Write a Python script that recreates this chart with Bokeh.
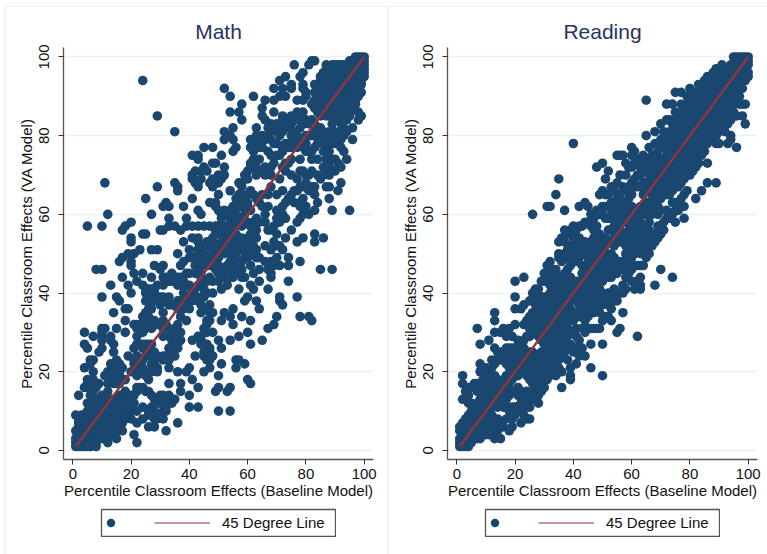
from bokeh.plotting import figure
from bokeh.layouts import row
from bokeh.models import Range1d, Legend, LegendItem, FixedTicker, ColumnDataSource, Div
from bokeh.embed import file_html
from bokeh.resources import INLINE

NAVY = "#1A476F"
MAROON = "#90353B"
GRID = "#EAF2F3"
FONT = "Liberation Sans"

tick_values = [0, 20, 40, 60, 80, 100]
titles = ["Math", "Reading"]
x_title = "Percentile Classroom Effects (Baseline Model)"
y_title = "Percentile Classroom Effects (VA Model)"
legend_label = "45 Degree Line"
line_x = [1, 100]
line_y = [1, 100]

math_y90 = [(97,100),(98,100),(99,100),(100,100),(95,99),(96,99),(97,99),(98,99),(99,99),(100,99),(83,99),(82,99),(76,98),(81,98),(87,98),(89,98),(90,98),(91,98),(92,98),(93,98),(94,98),(96,98),(98,98),(100,98),(87,97),(88,97),(90,97),(92,97),(94,97),(96,97),(98,97),(99,97),(100,97),(86,96),(88,96),(90,96),(92,96),(93,96),(95,96),(97,96),(99,96),(100,96),(79,96),(78,95),(73,95),(85,95),(87,95),(89,95),(91,95),(93,95),(95,95),(97,95),(99,95),(100,95),(71,94),(85,94),(86,94),(88,94),(90,94),(92,94),(94,94),(96,94),(98,94),(99,94),(24,94),(75,93),(79,93),(83,93),(85,93),(87,93),(89,93),(91,93),(93,93),(95,93),(97,93),(69,92),(52,92),(72,92),(75,92),(79,92),(84,92),(86,92),(88,92),(90,92),(92,92),(94,92),(96,92),(98,92),(80,91),(83,91),(85,91),(87,91),(89,91),(91,91),(93,91),(95,91),(97,91),(99,91),(54,90),(62,90),(73,90),(71,90),(80,90),(84,90),(86,90),(88,90),(90,90),(92,90),(94,90),(95,90),(96,90),(98,90),(99,93)]
math_y80 = [(66,89),(69,89),(77,89),(79,89),(83,89),(85,89),(87,89),(89,89),(91,89),(93,89),(96,89),(97,89),(58,88),(82,88),(84,88),(86,88),(88,88),(90,88),(92,88),(94,88),(95,88),(96,88),(97,88),(65,87),(83,87),(85,87),(87,87),(89,87),(91,87),(93,87),(96,87),(57,86),(54,86),(69,86),(77,86),(79,86),(84,86),(86,86),(88,86),(90,86),(92,86),(95,86),(98,86),(65,85),(72,85),(75,85),(77,85),(85,85),(87,85),(88,85),(91,85),(94,85),(95,85),(99,85),(29,85),(58,84),(66,84),(72,84),(74,84),(76,84),(78,84),(80,84),(82,84),(90,84),(92,84),(93,84),(94,84),(98,84),(73,83),(75,83),(79,83),(81,83),(83,83),(89,83),(92,83),(68,83),(70,83),(96,82),(63,82),(55,82),(67,82),(69,82),(71,82),(74,82),(78,82),(84,82),(85,82),(93,82),(94,81),(52,81),(35,81),(68,81),(70,81),(72,81),(76,81),(83,81),(86,81),(88,81),(90,81),(92,81),(54,80),(65,80),(67,80),(71,80),(75,80),(77,80),(80,80),(81,80),(82,80),(84,80),(87,80),(89,80),(90,80),(91,80),(93,80),(63,80),(83,80)]
math_y70 = [(52,79),(55,79),(96,79),(92,79),(61,79),(64,79),(66,79),(68,79),(77,79),(78,79),(79,79),(85,79),(62,78),(63,78),(69,78),(70,78),(73,78),(74,78),(76,78),(80,78),(84,78),(86,78),(87,78),(88,78),(89,78),(90,78),(56,77),(45,77),(48,77),(61,77),(64,77),(65,77),(72,77),(74,77),(75,77),(77,77),(79,77),(83,77),(92,77),(55,76),(62,76),(67,76),(72,76),(80,76),(81,76),(82,76),(86,76),(88,76),(93,76),(51,75),(41,75),(43,75),(68,75),(70,75),(71,75),(43,74),(62,74),(64,74),(75,74),(78,74),(82,74),(84,74),(87,74),(89,74),(90,74),(94,74),(48,73),(49,73),(61,73),(69,73),(73,73),(74,73),(91,73),(45,72),(52,72),(61,72),(62,72),(63,72),(66,72),(68,72),(72,72),(86,72),(87,72),(88,72),(92,72),(42,71),(44,71),(46,71),(60,71),(64,71),(65,71),(67,71),(73,71),(78,71),(79,71),(82,71),(90,71),(41,70),(50,70),(52,70),(59,70),(63,70),(66,70),(68,70),(75,70),(80,70),(81,70),(84,70),(86,70),(88,70)]
math_y60 = [(60,69),(71,69),(77,69),(85,69),(41,69),(44,69),(48,69),(51,69),(58,68),(80,68),(92,68),(11,68),(35,68),(42,68),(43,68),(47,68),(50,68),(57,68),(29,67),(36,67),(43,67),(48,67),(58,67),(68,67),(78,67),(79,67),(82,67),(83,67),(87,67),(88,67),(36,66),(54,66),(61,66),(72,66),(76,66),(77,66),(81,66),(91,66),(25,64),(41,64),(50,65),(57,65),(58,65),(60,65),(62,65),(65,65),(67,65),(70,65),(75,65),(83,65),(32,63),(47,63),(49,63),(57,63),(59,63),(60,63),(64,63),(73,63),(76,63),(78,63),(84,63),(56,64),(59,64),(63,64),(74,64),(79,64),(88,64),(31,62),(33,62),(38,62),(49,62),(55,62),(58,62),(60,62),(65,62),(67,62),(72,62),(78,62),(80,62),(43,61),(50,61),(52,61),(54,61),(56,61),(61,61),(70,61),(83,61),(89,61),(95,61),(12,60),(27,60),(44,60),(51,60),(52,60),(53,60),(55,60),(59,60),(66,60),(72,60),(79,60),(81,60)]
math_y50 = [(33,59),(39,59),(51,59),(54,59),(56,59),(57,59),(58,59),(63,59),(70,59),(73,59),(78,59),(20,58),(60,58),(62,58),(64,58),(66,58),(71,58),(77,58),(5,57),(10,57),(18,57),(33,57),(35,57),(39,57),(41,57),(43,57),(45,57),(47,57),(49,57),(50,57),(52,57),(53,57),(54,57),(56,57),(58,57),(61,57),(69,57),(17,56),(30,56),(31,56),(37,56),(49,56),(51,56),(52,56),(63,56),(67,56),(68,56),(75,56),(24,55),(25,55),(49,55),(51,55),(53,55),(54,55),(55,55),(56,55),(61,55),(70,55),(83,55),(20,54),(41,54),(43,54),(48,54),(52,54),(53,54),(55,54),(57,54),(58,54),(60,54),(62,54),(63,54),(73,54),(79,54),(86,54),(20,53),(38,53),(43,53),(46,53),(47,53),(48,53),(51,53),(54,53),(58,53),(69,53),(77,53),(83,53),(44,52),(46,52),(47,52),(49,52),(52,52),(53,52),(54,52),(60,52),(62,52),(66,52),(70,52),(71,52),(23,51),(27,51),(29,51),(40,51),(43,51),(48,51),(55,51),(56,51),(57,51),(58,51),(59,51),(61,51),(63,51),(68,51),(72,51),(21,50),(19,50),(36,50),(43,50),(45,50),(48,50),(50,50),(52,50),(54,50),(56,50),(60,50),(62,50),(50,52),(53,51),(56,52)]
math_y40 = [(17,49),(40,49),(41,49),(42,49),(44,49),(49,49),(50,49),(55,49),(59,49),(60,49),(63,49),(64,49),(70,49),(74,49),(47,49),(16,48),(20,48),(38,48),(45,48),(46,48),(48,48),(57,48),(58,48),(66,48),(68,48),(78,48),(54,48),(20,47),(28,47),(31,47),(37,47),(42,47),(44,47),(46,47),(47,47),(48,47),(50,47),(53,47),(56,47),(61,47),(69,47),(71,47),(74,47),(30,46),(8,46),(10,46),(49,46),(52,46),(55,46),(54,46),(58,46),(64,46),(67,46),(85,46),(89,46),(21,45),(24,45),(34,45),(39,45),(40,45),(42,45),(44,45),(50,45),(62,45),(68,45),(56,45),(17,44),(27,44),(31,44),(32,44),(33,44),(36,44),(37,44),(52,44),(54,44),(55,44),(58,44),(59,44),(68,44),(44,44),(47,44),(74,43),(64,43),(33,43),(34,43),(36,43),(38,43),(44,43),(46,43),(48,43),(50,43),(22,43),(36,42),(31,42),(29,42),(24,42),(19,42),(13,42),(37,42),(39,42),(40,42),(53,42),(61,42),(42,41),(43,42),(67,41),(62,41),(57,41),(51,41),(41,41),(25,41),(26,41),(27,41),(28,41),(45,41),(48,40),(41,40),(38,40),(20,40),(25,40),(28,40),(46,40)]
math_y30 = [(10,39),(15,39),(26,39),(29,39),(30,39),(31,39),(33,39),(42,39),(44,39),(45,39),(60,39),(77,39),(71,39),(16,38),(25,38),(26,38),(27,38),(28,38),(32,38),(36,38),(37,38),(38,38),(40,38),(41,38),(43,38),(59,38),(63,38),(71,38),(30,37),(33,37),(34,37),(35,37),(39,37),(44,37),(47,37),(72,37),(18,36),(19,36),(26,36),(27,36),(36,36),(37,36),(38,36),(40,36),(45,36),(46,36),(55,36),(64,36),(14,35),(25,35),(31,35),(44,35),(47,35),(48,35),(52,35),(24,34),(25,34),(26,34),(37,34),(54,34),(58,34),(70,34),(78,34),(81,34),(18,33),(27,33),(28,33),(31,33),(39,33),(46,33),(47,33),(51,33),(61,33),(82,33),(21,32),(22,32),(23,32),(24,32),(26,32),(29,32),(30,32),(32,32),(36,32),(46,32),(55,32),(69,32),(15,31),(10,31),(11,31),(22,31),(23,31),(25,31),(27,31),(31,31),(33,31),(35,31),(45,31),(67,31),(4,30),(10,30),(18,30),(24,30),(35,30),(37,30),(46,30),(48,30),(60,30)]
math_y20 = [(7,29),(10,29),(13,29),(22,29),(31,29),(33,29),(34,29),(36,29),(43,29),(44,29),(57,29),(13,28),(10,28),(34,28),(37,28),(41,28),(44,28),(50,28),(54,28),(65,28),(4,27),(14,27),(22,27),(23,27),(24,27),(25,27),(26,27),(27,27),(35,27),(36,27),(44,27),(46,27),(61,27),(5,26),(10,26),(21,26),(24,26),(25,26),(33,26),(34,26),(35,26),(36,26),(46,26),(47,26),(51,26),(9,25),(14,25),(26,25),(27,25),(28,25),(34,25),(45,25),(47,25),(19,24),(22,24),(25,24),(27,24),(28,24),(29,24),(31,24),(32,24),(33,24),(35,24),(42,24),(45,24),(46,24),(48,24),(6,23),(7,23),(15,23),(21,23),(23,23),(24,23),(28,23),(31,23),(33,23),(46,23),(47,23),(56,23),(57,23),(6,22),(13,22),(16,22),(21,22),(22,22),(23,22),(27,22),(28,22),(51,22),(59,22),(4,21),(14,21),(16,21),(17,21),(22,21),(24,21),(29,21),(33,21),(40,21),(47,21),(56,21),(7,20),(12,20),(14,20),(16,20),(20,20),(23,20),(24,20),(25,20),(26,20),(27,20),(29,20),(36,20),(39,20),(45,20)]
math_y10 = [(11,19),(12,19),(13,19),(15,19),(16,19),(22,19),(25,19),(50,19),(5,18),(7,18),(13,18),(17,18),(18,18),(26,18),(41,18),(60,18),(5,17),(6,17),(8,17),(9,17),(12,17),(14,17),(15,17),(16,17),(33,17),(37,17),(61,17),(4,16),(5,16),(6,16),(7,16),(8,16),(22,16),(23,16),(24,16),(43,16),(50,16),(54,16),(7,15),(12,15),(18,15),(22,15),(25,15),(26,15),(37,15),(49,15),(53,15),(2,14),(6,14),(10,14),(16,14),(18,14),(19,14),(20,14),(21,14),(27,14),(30,14),(31,14),(33,14),(40,14),(8,13),(9,13),(11,13),(12,13),(13,13),(14,13),(17,13),(18,13),(19,13),(28,13),(33,13),(35,13),(5,12),(6,12),(7,12),(10,12),(15,12),(16,12),(17,12),(19,12),(20,12),(21,12),(29,12),(30,12),(31,12),(34,12),(30,13),(12,11),(17,11),(20,11),(24,11),(27,11),(32,11),(40,11),(43,11),(8,11),(13,11),(18,11),(11,11),(16,10),(14,10),(9,10),(10,10),(11,10),(12,10),(15,10),(18,10),(19,10),(20,10),(22,10),(26,10),(28,10),(31,10),(32,10),(50,10),(54,10),(5,10),(7,10)]
math_y00 = [(1,9),(3,9),(4,9),(6,9),(7,9),(8,9),(9,9),(10,9),(11,9),(12,9),(13,9),(14,9),(16,9),(17,9),(18,9),(19,9),(26,9),(27,9),(29,9),(30,9),(8,8),(12,8),(13,8),(14,8),(16,8),(20,8),(24,8),(28,8),(29,8),(31,8),(2,8),(3,8),(5,8),(6,8),(7,8),(9,8),(10,8),(11,8),(15,8),(18,8),(22,7),(36,7),(2,7),(3,7),(4,7),(5,7),(6,7),(7,7),(8,7),(9,7),(10,7),(11,7),(12,7),(13,7),(15,7),(16,7),(17,7),(26,6),(28,6),(2,6),(3,6),(4,6),(5,6),(6,6),(7,6),(8,6),(9,6),(10,6),(11,6),(12,6),(13,6),(14,6),(15,6),(16,6),(17,5),(32,5),(1,5),(2,5),(3,5),(5,5),(6,5),(7,5),(8,5),(9,5),(10,5),(11,5),(12,5),(14,5),(15,5),(21,4),(2,4),(3,4),(4,4),(5,4),(6,4),(7,4),(8,4),(9,4),(10,4),(11,4),(12,4),(13,4),(14,4),(15,3),(1,3),(2,3),(3,3),(5,3),(6,3),(7,3),(8,3),(9,3),(10,3),(12,3),(12,2),(22,2),(1,2),(2,2),(3,2),(4,2),(5,2),(6,2),(7,2),(8,2),(8,1),(1,1),(2,1),(3,1),(4,1),(5,1),(6,1)]
math_points = math_y90 + math_y80 + math_y70 + math_y60 + math_y50 + math_y40 + math_y30 + math_y20 + math_y10 + math_y00

reading_x00 = [(1,[1,2,3,5,6]),(2,[1,2,4,5,7,13,17,19]),(3,[1,3,4,6,8,15]),(4,[1,2,4,6,9,12,14,16]),(5,[2,3,5,8,10,12,16]),(6,[3,4,6,9,11,17]),(7,[3,5,7,10,12,15,17,31]),(8,[3,6,8,11,13,16,20,22,27]),(9,[5,7,9,12,15,18,20]),(10,[4,6,8,11,13,16,19,21])]
reading_x10 = [(11,[4,7,10,12,14,17,20,28]),(12,[5,9,11,13,15,18,21,23]),(13,[3,4,7,12,14,16,19,22,26,30,33,35]),(14,[5,8,11,13,16,18,23,25]),(15,[3,6,7,12,14,17,23,25,30]),(16,[6,11,13,16,18,23,25,31]),(17,[8,11,13,15,17,19,22,24,26,29]),(18,[5,10,14,17,19,21,24,26,31]),(19,[6,8,11,15,18,20,22,24,26,29]),(20,[9,11,15,19,21,24,26,32,36,39,43])]
reading_x20 = [(21,[11,14,16,19,22,25,28]),(22,[7,10,12,15,20,24,27,36]),(23,[9,12,14,21,23,26,28,32,37,44]),(24,[8,11,15,19,21,24,29,33]),(25,[8,11,13,18,20,23,25,29,31,34,38]),(26,[13,15,17,19,22,25,31,33,35,40,60]),(27,[13,16,19,21,24,30,32,34,37,39,41]),(28,[12,14,17,20,23,29,31,34,36,38,41]),(29,[15,17,19,22,25,28,31,33,36,39,43]),(30,[16,19,21,24,27,30,33,35,37,39,43,45])]
reading_x30 = [(31,[18,21,23,26,28,31,34,37,39,43,47,62]),(32,[19,22,25,29,32,35,38,40,42,44,46,48,62]),(33,[21,23,26,28,31,33,36,38,41,44,46]),(34,[19,22,25,27,30,33,35,39,41,43,45,46,65]),(35,[21,23,26,29,31,34,37,40,43,49,50,53,69]),(36,[16,20,24,27,29,32,35,37,39,42,44,48,54]),(37,[25,28,30,33,36,39,41,43,45,50,53,56,61]),(38,[23,26,29,31,34,38,40,43,46,49,51,55]),(39,[18,19,21,27,33,36,38,41,44,47,49,52,56]),(40,[25,30,33,35,39,42,48,50,52,54,57,78])]
reading_x40 = [(41,[22,26,29,31,35,38,41,43,48,51,53,56]),(42,[24,28,34,37,40,43,49,52,54,57,62]),(43,[26,31,35,39,42,45,47,50,52,57]),(44,[24,30,33,36,38,41,44,47,50,53,58,63]),(45,[31,34,37,40,43,46,49,52,58,62]),(46,[21,27,31,36,39,42,45,47,50,53,57,60]),(47,[31,35,38,41,44,48,51,54,56,59]),(48,[31,36,39,43,46,49,52,55,57,61,72]),(49,[31,35,38,41,44,47,50,53,55,60,65]),(50,[19,27,33,37,40,43,46,49,52,54,60,62,66,73])]
reading_x50 = [(51,[34,38,44,47,50,52,54,59,62,65,69]),(52,[34,37,40,44,46,49,53,56,59,62,65,71]),(53,[33,36,39,44,47,50,53,56,59,61,63,67]),(54,[38,41,46,49,52,54,57,60,63,66]),(55,[30,38,40,45,48,53,55,58,61,64,68,75]),(56,[31,40,46,48,53,56,59,62,65,70,75]),(57,[35,40,42,46,48,53,55,58,60,63,67,75]),(58,[41,44,47,50,52,55,58,61,63,66,70,73]),(59,[45,48,50,53,56,59,62,64,67,72]),(60,[43,46,49,52,54,57,60,62,65,68,72,75,77])]
reading_x60 = [(61,[41,47,50,53,56,58,61,67,69,73,76]),(62,[29,43,47,51,54,57,60,67,70,74]),(63,[41,42,44,47,50,53,56,58,62,67,70,72,74]),(64,[47,50,52,55,57,60,62,65,68,72,75]),(65,[49,52,54,57,60,63,66,68,71,73,80,89]),(66,[50,53,56,58,61,63,67,70,72,74,77]),(67,[52,55,60,62,65,68,71,73,75]),(68,[42,53,55,61,64,66,69,72,75,78,81]),(69,[54,57,60,62,65,67,70,73,76,78]),(70,[46,55,57,61,64,66,69,72,74,77,79,83])]
reading_x70 = [(71,[56,58,65,68,71,74,77,79,81]),(72,[59,61,65,67,69,72,75,78,80,84,88]),(73,[59,65,68,71,73,76,78,81,84]),(74,[44,60,63,66,70,73,75,78,80,83,88]),(75,[58,61,63,68,71,74,77,79,81,84,86,91]),(76,[61,63,67,70,72,75,77,80,83,85]),(77,[64,68,70,73,76,78,81,84,86,88,91]),(78,[59,62,65,69,72,74,77,79,82,85,87]),(79,[66,70,73,75,78,80,83,86,88,90]),(80,[70,72,75,77,79,81,84,87,89,92])]
reading_x80 = [(81,[71,74,76,78,80,83,85,88,90]),(82,[64,72,75,77,79,82,84,86,89,91]),(83,[73,76,78,81,83,85,87,90,93]),(84,[66,75,78,80,82,84,87,89,91]),(85,[76,78,81,83,86,88,90,92,94]),(86,[68,73,78,80,82,85,87,90,92,95]),(87,[79,81,84,86,88,91,93,95]),(88,[79,82,84,87,89,92,94,96]),(89,[68,78,80,83,86,88,90,93,95,97]),(90,[78,81,84,87,89,91,94,96])]
reading_x90 = [(91,[82,85,88,90,92,95,97,98]),(92,[81,84,87,89,91,94,96,97]),(93,[78,83,86,88,90,92,94,95,97]),(94,[79,80,84,87,90,92,94,96,97,98]),(95,[86,88,91,93,95,97,98,100]),(96,[77,85,89,91,93,95,97,99,100]),(97,[88,90,92,94,96,98,100]),(98,[85,88,92,94,96,98,99,100]),(99,[83,88,94,95,97,98,100]),(100,[95,96,98,99,100])]
reading_columns = reading_x00 + reading_x10 + reading_x20 + reading_x30 + reading_x40 + reading_x50 + reading_x60 + reading_x70 + reading_x80 + reading_x90
reading_points = [(x, y) for x, ys in reading_columns for y in ys]

W1, W2, H = 387, 380, 554
X_RANGE = (-3.2, 103.2)
Y_RANGE = (-2.3, 102.4)


def panel(title, points, width, left, right):
    p = figure(width=width, height=H, output_backend="svg", toolbar_location=None,
               x_range=Range1d(*X_RANGE), y_range=Range1d(*Y_RANGE),
               min_border_left=left, min_border_right=right, min_border_top=47, min_border_bottom=95,
               background_fill_color="white", border_fill_color=None, outline_line_color=None)
    p.title.text = title
    p.title.align = "center"
    p.title.text_font = FONT
    p.title.text_font_size = "21px"
    p.title.text_font_style = "normal"
    p.title.text_color = "#27345E"
    p.title.standoff = 9
    src = ColumnDataSource(dict(x=[a for a, _ in points], y=[b for _, b in points]))
    p.scatter("x", "y", source=src, size=9.6, marker="circle", fill_color=NAVY, line_color=None)
    p.line(line_x, line_y, line_color=MAROON, line_width=2.4)

    for ax, lab in ((p.xaxis[0], x_title), (p.yaxis[0], y_title)):
        ax.ticker = FixedTicker(ticks=tick_values)
        ax.axis_label = lab
        ax.axis_label_text_font = FONT
        ax.axis_label_text_font_size = "15px"
        ax.axis_label_text_font_style = "normal"
        ax.axis_label_text_color = "#111111"
        ax.major_label_text_font = FONT
        ax.major_label_text_font_size = "15px"
        ax.major_label_text_color = "#111111"
        ax.minor_tick_line_color = None
        ax.major_tick_out = 5
        ax.major_tick_in = 0
        ax.major_tick_line_color = "#333333"
        ax.axis_line_color = "#555555"
        ax.axis_line_width = 1.3
    p.xaxis[0].major_label_standoff = 4
    p.yaxis[0].major_label_standoff = 9
    p.xaxis[0].axis_label_standoff = 0
    p.yaxis[0].axis_label_standoff = 2
    p.yaxis[0].major_label_orientation = "vertical"
    p.xgrid.visible = False
    p.ygrid.ticker = FixedTicker(ticks=tick_values)
    p.ygrid.grid_line_color = GRID
    p.ygrid.grid_line_width = 1.3
    return p


def legend_box(left_px):
    q = figure(width=236, height=29, output_backend="svg", toolbar_location=None,
               x_range=Range1d(200, 300), y_range=Range1d(200, 300),
               x_axis_location=None, y_axis_location=None,
               min_border=1, background_fill_color="white", border_fill_color=None,
               outline_line_color="#555555", outline_line_width=1.3,
               styles={"position": "absolute", "left": f"{left_px}px", "top": "508px"})
    q.grid.visible = False
    pts = q.scatter(line_x, line_y, marker="circle", fill_color=NAVY, line_color=None)
    ln = q.line(line_x, line_y, line_color=MAROON, line_width=1.2)
    common = dict(background_fill_alpha=0, border_line_color=None, margin=0, padding=0, label_text_font=FONT,
                  label_text_font_size="15px", label_text_color="#111111", glyph_height=21, label_height=21)
    q.add_layout(Legend(items=[LegendItem(label=" ", renderers=[pts])], location=(-1, 3), glyph_width=21, label_standoff=0, **common))
    q.add_layout(Legend(items=[LegendItem(label=legend_label, renderers=[ln])], location=(53, 3), glyph_width=56, label_standoff=12, **common))
    return q


def rule(left, top, width, height):
    return Div(text="", width=width, height=height, margin=0,
               styles={"position": "absolute", "left": f"{left}px", "top": f"{top}px", "background-color": "#EEF3F5"})


p1 = panel(titles[0], math_points, W1, 63, W1 - 373)
p2 = panel(titles[1], reading_points, W2, 447 - W1, W2 - 757 + W1)
layout = row(p1, p2, spacing=0, styles={"position": "absolute", "left": "0px", "top": "0px"})
roots = [rule(4, 6, 2, 548), rule(387, 6, 2, 548), rule(4, 6, 763, 1), layout, legend_box(100), legend_box(484)]
open("out.html", "w").write(file_html(roots, INLINE))
